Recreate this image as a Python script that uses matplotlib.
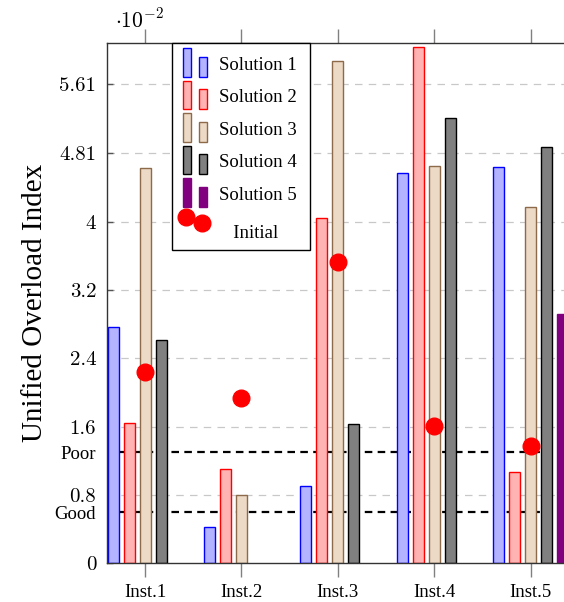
import numpy as np
import matplotlib
matplotlib.use("Agg")
import matplotlib.pyplot as plt
from matplotlib.patches import Rectangle
from matplotlib.lines import Line2D
from matplotlib.legend_handler import HandlerBase

plt.rcParams["mathtext.fontset"] = "cm"

# values in units of 1e-2
instances = ["Inst.1", "Inst.2", "Inst.3", "Inst.4", "Inst.5"]
sol1 = [2.77, 0.42, 0.90, 4.57, 4.64]
sol2 = [1.64, 1.11, 4.04, 6.05, 1.07]
sol3 = [4.63, 0.80, 5.88, 4.65, 4.17]
sol4 = [2.61, np.nan, 1.63, 5.21, 4.87]
sol5 = [np.nan, np.nan, np.nan, np.nan, 2.92]
initial = [2.24, 1.93, 3.53, 1.61, 1.37]
labels = ["Solution 1", "Solution 2", "Solution 3", "Solution 4", "Solution 5"]

poor_level = 1.3
good_level = 0.6
yticks = [0, 0.8, 1.6, 2.4, 3.2, 4, 4.81, 5.61]

faces = ["#b3b3ff", "#ffb3b3", "#ecd9c6", "#808080", "#800080"]
edges = ["#0000ff", "#ff0000", "#8c6a4a", "#000000", "#800080"]


class TwoBarHandler(HandlerBase):
    # pgfplots-style ybar legend icon: two small bars
    def create_artists(self, legend, orig_handle, xdescent, ydescent,
                       width, height, fontsize, trans):
        fc = orig_handle.get_facecolor()
        ec = orig_handle.get_edgecolor()
        w = width * 0.33
        x0 = -xdescent - 2
        r1 = Rectangle((x0, -ydescent - 5), w, height + 11,
                       facecolor=fc, edgecolor=ec, lw=1.0, transform=trans)
        r2 = Rectangle((x0 + width * 0.66, -ydescent - 5), w, height + 5,
                       facecolor=fc, edgecolor=ec, lw=1.0, transform=trans)
        return [r1, r2]


class TwoDotHandler(HandlerBase):
    def create_artists(self, legend, orig_handle, xdescent, ydescent,
                       width, height, fontsize, trans):
        x0 = -xdescent - 2
        d1 = Line2D([x0 + width * 0.16], [height + 2], marker="o",
                    color="red", markersize=12, ls="none", transform=trans)
        d2 = Line2D([x0 + width * 0.80], [height - 2.5], marker="o",
                    color="red", markersize=12, ls="none", transform=trans)
        return [d1, d2]


fig = plt.figure(figsize=(5.64, 6.02), dpi=100)
ax = fig.add_axes([0.189, 0.0643, 0.820, 0.8638])

x = np.arange(1, len(instances) + 1)
step = 0.166
width = 0.114
series = [sol1, sol2, sol3, sol4, sol5]

# gridlines and quality thresholds sit behind the bars
for t in yticks[1:]:
    ax.axhline(t, color="#c8c8c8", lw=0.9, dashes=(6, 5), zorder=0)
ax.axhline(poor_level, color="black", lw=1.6, dashes=(3.4, 2.4), zorder=1)
ax.axhline(good_level, color="black", lw=1.6, dashes=(3.4, 2.4), zorder=1)

handles = []
for j, vals in enumerate(series):
    ax.bar(x + (j - 2) * step, vals, width, color=faces[j],
           edgecolor=edges[j], linewidth=1.0, zorder=2)
    handles.append(Rectangle((0, 0), 1, 1, facecolor=faces[j], edgecolor=edges[j]))

ax.plot(x, initial, "o", color="red", markersize=12, ls="none", zorder=3)
dot_handle = Line2D([], [], marker="o", color="red", ls="none")

ax.set_xlim(0.6, 5.4)
ax.set_ylim(0, 6.09)

ax.set_xticks(x)
ax.set_xticklabels(instances, fontfamily="Liberation Serif", fontsize=13.5)
ax.tick_params(axis="x", direction="out", length=10, width=1, color="#808080",
               top=True, pad=5)

ax.set_yticks(yticks + [poor_level, good_level])
ax.set_yticklabels(["0", "0.8", "1.6", "2.4", "3.2", "4", "4.81", "5.61", "Poor", "Good"])
for lab in ax.get_yticklabels():
    if lab.get_text() in ("Poor", "Good"):
        lab.set_fontfamily("Liberation Serif")
        lab.set_fontsize(13.5)
    else:
        lab.set_fontfamily("cmr10")
        lab.set_fontsize(15)
ax.tick_params(axis="y", direction="in", length=4, width=1, color="#555555", pad=7.5)

for s in ax.spines.values():
    s.set_color("#333333")
    s.set_linewidth(1.0)

ax.set_ylabel("Unified Overload Index", fontfamily="Liberation Serif",
              fontsize=21, labelpad=5)
ax.text(0.018, 1.022, r"$\cdot 10^{-2}$", transform=ax.transAxes,
        fontsize=15.5, ha="left", va="bottom")

hmap = {h: TwoBarHandler() for h in handles}
hmap[dot_handle] = TwoDotHandler()
leg = ax.legend(handles + [dot_handle], labels + ["   Initial"],
                handler_map=hmap,
                loc="upper left", bbox_to_anchor=(0.141, 1.0),
                prop={"family": "Liberation Serif", "size": 13.5},
                frameon=True, fancybox=False, edgecolor="black", framealpha=1,
                handlelength=1.3, handleheight=0.7, handletextpad=0.5,
                labelspacing=0.82, borderpad=0.72, borderaxespad=0)
leg.get_frame().set_linewidth(1.0)
leg.set_zorder(5)
# the "Initial" entry sits a little lower than the rest
leg.get_texts()[-1].set_y(-6)

fig.savefig("out.png", dpi=100)
